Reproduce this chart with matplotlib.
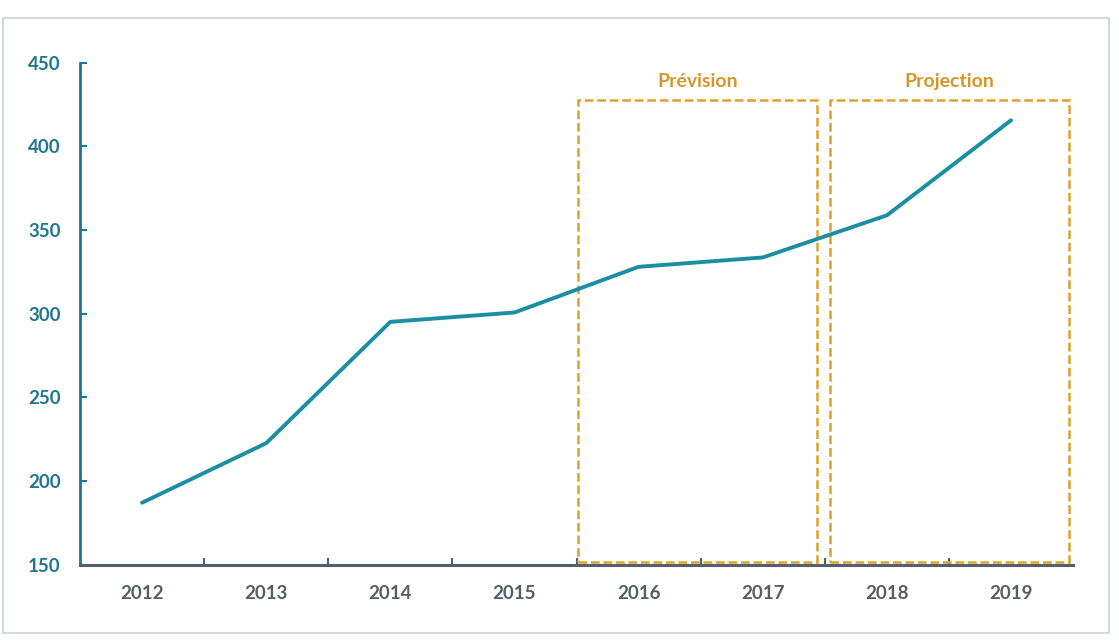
import matplotlib
matplotlib.use('Agg')
import matplotlib.pyplot as plt
from matplotlib.patches import Rectangle

# data
years = ['2012', '2013', '2014', '2015', '2016', '2017', '2018', '2019']
values = [187, 222.6, 295.1, 300.7, 328, 333.6, 358.8, 415.6]
y_ticks = [150, 200, 250, 300, 350, 400, 450]
box_labels = ['Prévision', 'Projection']
box_x = [(3.51, 5.44), (5.54, 7.47)]
box_y = (151.5, 428)

teal = '#1b8ea3'
axis_teal = '#1d7790'
gray = '#555f67'
gold = '#dba42e'
gold_text = '#d4972c'

plt.rcParams['font.family'] = ['Lato', 'DejaVu Sans']

fig = plt.figure(figsize=(11.19, 6.4), dpi=100)
ax = fig.add_axes([0.0715, 0.1178, 0.8875, 0.7842])

x = list(range(len(years)))
ax.plot(x, values, color=teal, lw=2.8, solid_capstyle='round', zorder=3)

for (x0, x1), lab in zip(box_x, box_labels):
    r = Rectangle((x0, box_y[0]), x1 - x0, box_y[1] - box_y[0], fill=False,
                  edgecolor=gold, lw=1.8, ls=(0, (3.5, 1.5)), zorder=2)
    ax.add_patch(r)
    ax.text((x0 + x1) / 2, 435.5, lab, ha='center', va='baseline',
            color=gold_text, fontsize=14, fontweight='bold')

ax.set_xlim(-0.5, len(years) - 0.5)
ax.set_ylim(150, 450)
ax.set_yticks(y_ticks)
ax.set_yticklabels([str(v) for v in y_ticks], color=axis_teal,
                   fontsize=13.5, fontweight='bold')
ax.set_xticks(x)
ax.set_xticklabels(years, color=gray, fontsize=13.5, fontweight='bold')
ax.tick_params(axis='x', length=0, pad=15)
ax.set_xticks([i + 0.5 for i in x[:-1]], minor=True)
ax.tick_params(axis='x', which='minor', direction='in', length=5,
               width=1.5, color=gray)
ax.tick_params(axis='y', direction='in', length=5, width=1.5,
               color=axis_teal, pad=14)

for s in ['top', 'right']:
    ax.spines[s].set_visible(False)
ax.spines['left'].set_color(axis_teal)
ax.spines['left'].set_linewidth(2)
ax.spines['bottom'].set_color(gray)
ax.spines['bottom'].set_linewidth(2.2)

# outer frame
fig.patches.append(Rectangle((3 / 1119, 1 - 633 / 640), 1106 / 1119, 615 / 640,
                             transform=fig.transFigure, fill=False,
                             edgecolor='#c9d3dd', lw=1.2))

fig.savefig('out.png', dpi=100)
